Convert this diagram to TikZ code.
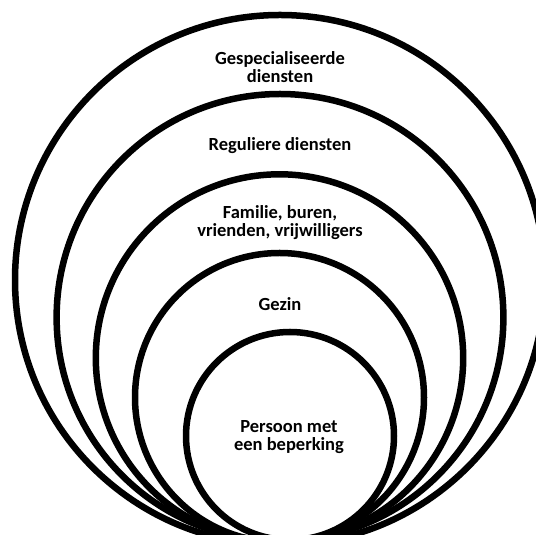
\documentclass[tikz,border=0pt]{standalone}
\usepackage{fontspec}
\setmainfont{Carlito}
\usepackage{tikz}
\usetikzlibrary{calc}

\begin{document}
\begin{tikzpicture}[x=1pt, y=1pt, line width=6.5pt,
    tekst/.style={align=center, font=\bfseries\fontsize{18.5}{18}\selectfont}]
    % vaste afmetingen van de figuur
    \useasboundingbox (0,0) rectangle (536,535);
    \clip (0,0) rectangle (536,535);

    % de vijf cirkels, van buiten naar binnen
    \def\cirkelA{(280,255) circle (265)}
    \def\cirkelB{(280,217.6) circle (223.4)}
    \def\cirkelC{(279.5,177) circle (183.7)}
    \def\cirkelD{(279.5,137.5) circle (144.5)}
    \def\cirkelE{(290,99) circle (104)}

    \draw \cirkelA;
    \draw \cirkelB;
    \draw \cirkelC;
    \draw \cirkelD;
    \draw \cirkelE;

    % tekst in elke ring
    \node[tekst] (spec) at (280,468) {Gespecialiseerde\\diensten};
    \node[tekst] (regul) at (280,389) {Reguliere diensten};
    \node[tekst] (familie) at (280,312) {Familie, buren,\\vrienden, vrijwilligers};
    \node[tekst] (gezin) at (280,231) {Gezin};
    \node[tekst] (persoon) at (289,98) {Persoon met\\een beperking};
\end{tikzpicture}
\end{document}
